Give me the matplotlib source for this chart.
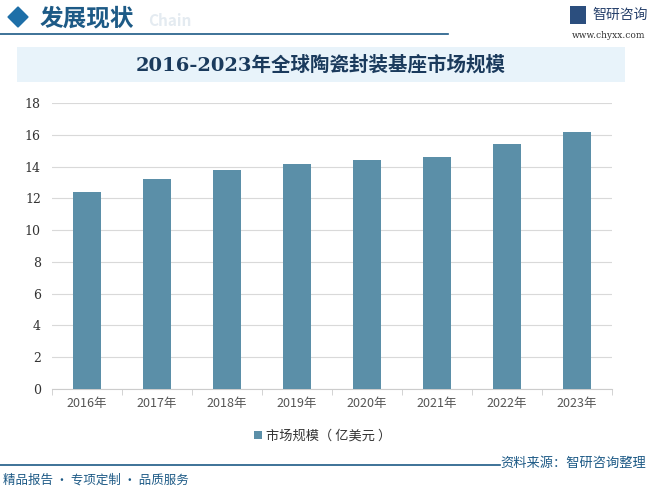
import matplotlib.pyplot as plt
from matplotlib.patches import Rectangle, Polygon

plt.rcParams['font.family'] = ['Noto Sans CJK SC', 'DejaVu Sans']

# data
years = ['2016年', '2017年', '2018年', '2019年', '2020年', '2021年', '2022年', '2023年']
market_size = [12.4, 13.2, 13.8, 14.15, 14.4, 14.6, 15.4, 16.2]
series_name = '市场规模（ 亿美元 ）'
y_ticks = [0, 2, 4, 6, 8, 10, 12, 14, 16, 18]

W, H = 651, 491
fig = plt.figure(figsize=(W / 100, H / 100), dpi=100)
fig.patch.set_facecolor('white')

def fx(px):
    return px / W

def fy(py):
    return 1 - py / H

navy = '#1d5a86'

# header
fig.patches.append(Polygon([[fx(8), fy(17)], [fx(18), fy(7)], [fx(28), fy(17)], [fx(18), fy(27)]],
                           closed=True, transform=fig.transFigure, color='#1e6fa8'))
fig.text(fx(148), fy(21), 'Chain', fontsize=11, color='#e4ebf1', fontweight='bold', va='center')
fig.text(fx(40), fy(18), '发展现状', fontsize=17, color=navy, fontweight='bold', va='center')
fig.add_artist(plt.Line2D([0, fx(448)], [fy(34), fy(34)], transform=fig.transFigure,
                          color=navy, lw=1.2))
# logo
fig.patches.append(Rectangle((fx(570), fy(24)), fx(16), 18 / H, transform=fig.transFigure,
                             facecolor='#2b4e7e', edgecolor='none'))
fig.text(fx(592), fy(15), '智研咨询', fontsize=10, color='#26406b', va='center')
fig.text(fx(645), fy(35), 'www.chyxx.com', fontsize=6.5, color='#333333', va='center', ha='right',
         family=['DejaVu Serif'])

# title box
fig.patches.append(Rectangle((fx(17), fy(82)), fx(608), 35 / H, transform=fig.transFigure,
                             facecolor='#e8f3fa', edgecolor='none'))
fig.text(fx(321), fy(65), '2016-2023年全球陶瓷封装基座市场规模', fontsize=14, color='#1a3a5c',
         fontweight='bold', ha='center', va='center', family=['DejaVu Serif', 'Noto Sans CJK SC'])

# chart
ax = fig.add_axes([fx(52), fy(389), fx(560), (389 - 103) / H])
x = range(len(years))
bars = ax.bar(x, market_size, width=0.39, color='#5b8fa8', label=series_name, zorder=3)
ax.set_xlim(-0.5, len(years) - 0.5)
ax.set_ylim(0, 18)
ax.set_yticks(y_ticks)
ax.set_yticklabels([str(t) for t in y_ticks], family=['DejaVu Serif'], fontsize=9, color='#333333')
ax.set_xticks(list(x))
ax.set_xticklabels(years, fontsize=9, color='#555555')
ax.set_xticks([i - 0.5 for i in range(len(years) + 1)], minor=True)
ax.tick_params(axis='x', which='major', length=0, pad=6)
ax.tick_params(axis='x', which='minor', length=4, color='#cccccc')
ax.tick_params(axis='y', length=0, pad=8)
ax.grid(axis='y', color='#d9d9d9', lw=0.8, zorder=0)
for s in ['top', 'right', 'left']:
    ax.spines[s].set_visible(False)
ax.spines['bottom'].set_color('#cccccc')

ax.legend(loc='upper center', bbox_to_anchor=(fx(323 - 52) / fx(560), -0.1), frameon=False,
          fontsize=9.5, handlelength=0.6, handleheight=0.6, handletextpad=0.3,
          labelcolor='#333333')

# footer
fig.add_artist(plt.Line2D([0, fx(500)], [fy(465), fy(465)], transform=fig.transFigure,
                          color=navy, lw=1.2))
fig.text(fx(646), fy(463), '资料来源：智研咨询整理', fontsize=9.5, color='#1d5a86', ha='right', va='center')
fig.text(fx(3), fy(480), '精品报告 · 专项定制 · 品质服务', fontsize=9, color='#1d5a86', va='center')

fig.savefig('out.png', dpi=100)
